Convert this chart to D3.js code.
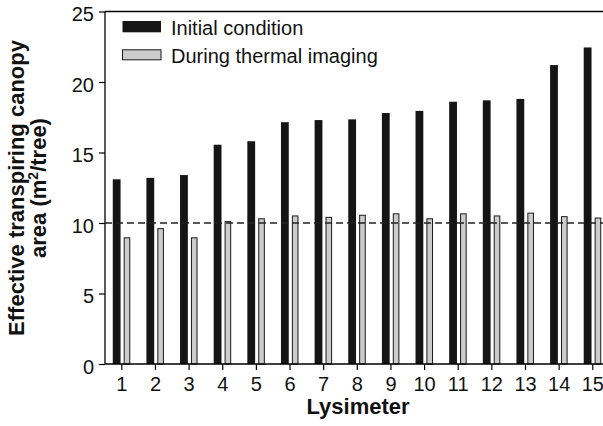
<!DOCTYPE html>
<html>
<head>
<meta charset="utf-8">
<script src="https://cdn.jsdelivr.net/npm/d3@7"></script>
<style>
  html, body { margin: 0; padding: 0; background: #fff; }
  svg { display: block; font-family: "Liberation Sans", Arial, Helvetica, sans-serif; }
</style>
</head>
<body>
<div id="chart"></div>
<script>
// ---- data ----
const lysimeters = ["1","2","3","4","5","6","7","8","9","10","11","12","13","14","15"];
const initialCondition = [13.1, 13.2, 13.4, 15.55, 15.8, 17.15, 17.3, 17.35, 17.8, 17.95, 18.6, 18.7, 18.8, 21.2, 22.45];
const duringThermal    = [8.95, 9.6, 8.95, 10.1, 10.3, 10.5, 10.4, 10.55, 10.65, 10.3, 10.65, 10.5, 10.7, 10.45, 10.35];
const seriesNames = ["Initial condition", "During thermal imaging"];
const yTicks = [0, 5, 10, 15, 20, 25];
const referenceLevel = 10;

// ---- layout ----
const W = 603, H = 426;
const mLeft = 105, mTop = 11.5, mBottom = 364;
const step = 33.64;
const mRight = mLeft + step * lysimeters.length;

const svg = d3.select("#chart").append("svg").attr("width", W).attr("height", H);

const x = d3.scaleBand().domain(lysimeters).range([mLeft, mRight]).padding(0);
const xs = d3.scaleBand().domain(seriesNames).range([x.bandwidth()/2 - 10.3, x.bandwidth()/2 + 10.3]).padding(0);
const y = d3.scaleLinear().domain([0, 25]).range([mBottom, mTop]);

// bars
const g = svg.append("g");
const blackW = 7.8, greyW = 5.6;
g.selectAll("rect.init").data(lysimeters).join("rect")
  .attr("class", "init")
  .attr("x", (d) => x(d) + xs(seriesNames[0]) + xs.bandwidth()/2 - blackW/2)
  .attr("width", blackW)
  .attr("y", (d, i) => y(initialCondition[i]))
  .attr("height", (d, i) => y(0) - y(initialCondition[i]))
  .attr("fill", "#151515");

g.selectAll("rect.therm").data(lysimeters).join("rect")
  .attr("class", "therm")
  .attr("x", (d) => x(d) + xs(seriesNames[1]) + xs.bandwidth()/2 - greyW/2)
  .attr("width", greyW)
  .attr("y", (d, i) => y(duringThermal[i]))
  .attr("height", (d, i) => y(0) - y(duringThermal[i]))
  .attr("fill", "#cccccc")
  .attr("stroke", "#1a1a1a")
  .attr("stroke-width", 1);

// reference dashed line
svg.append("line")
  .attr("x1", mLeft).attr("x2", W)
  .attr("y1", y(referenceLevel)).attr("y2", y(referenceLevel))
  .attr("stroke", "#222").attr("stroke-width", 1.3)
  .attr("stroke-dasharray", "7,4");

// axes
const yAxis = d3.axisLeft(y).tickValues(yTicks).tickSize(6).tickPadding(5);
const yg = svg.append("g").attr("transform", `translate(${mLeft},0)`).call(yAxis);
yg.select(".domain").remove();
yg.append("line").attr("x1", 0).attr("x2", 0).attr("y1", mTop).attr("y2", mBottom).attr("stroke", "#000").attr("stroke-width", 1.3);
yg.selectAll(".tick line").attr("stroke", "#000").attr("stroke-width", 1.2);
yg.selectAll(".tick text").attr("font-size", 20).attr("fill", "#111").attr("dy", "0.46em")
  .style("font-family", "'Liberation Sans', Arial, sans-serif");

const xAxis = d3.axisBottom(x).tickSize(6).tickPadding(7);
const xg = svg.append("g").attr("transform", `translate(0,${mBottom})`).call(xAxis);
xg.select(".domain").remove();
xg.selectAll(".tick line").attr("stroke", "#000").attr("stroke-width", 1.2);
xg.selectAll(".tick text").attr("font-size", 20).attr("fill", "#111")
  .style("font-family", "'Liberation Sans', Arial, sans-serif");

// frame lines (bottom and top)
svg.append("line").attr("x1", mLeft).attr("x2", W).attr("y1", mBottom).attr("y2", mBottom).attr("stroke", "#000").attr("stroke-width", 1.3);
svg.append("line").attr("x1", mLeft).attr("x2", W).attr("y1", mTop).attr("y2", mTop).attr("stroke", "#000").attr("stroke-width", 1.3);

// axis titles
svg.append("text")
  .attr("x", 358).attr("y", 414)
  .attr("text-anchor", "middle")
  .attr("font-size", 22).attr("font-weight", "bold").attr("fill", "#111")
  .text("Lysimeter");

const yt = svg.append("text")
  .attr("transform", "translate(0,188) rotate(-90)")
  .attr("text-anchor", "middle")
  .attr("font-size", 22).attr("font-weight", "bold").attr("fill", "#111");
yt.append("tspan").attr("x", 0).attr("y", 23.5).text("Effective transpiring canopy");
const l2 = yt.append("tspan").attr("x", 0).attr("y", 46);
l2.append("tspan").text("area (m");
l2.append("tspan").attr("font-size", 14).attr("dy", -8).text("2");
l2.append("tspan").attr("dy", 8).text("/tree)");

// legend
const legend = svg.append("g");
const legendColors = ["#151515", "#cccccc"];
seriesNames.forEach((name, i) => {
  const ly = 21 + i * 28.3;
  legend.append("rect")
    .attr("x", 122.5).attr("y", ly + (i ? 0.5 : 0))
    .attr("width", 38.5).attr("height", i ? 10 : 11.3)
    .attr("fill", legendColors[i])
    .attr("stroke", i ? "#1a1a1a" : "none").attr("stroke-width", 1);
  legend.append("text")
    .attr("x", 171).attr("y", ly + 14)
    .attr("font-size", 20).attr("fill", "#111")
    .text(name);
});
</script>
</body>
</html>
